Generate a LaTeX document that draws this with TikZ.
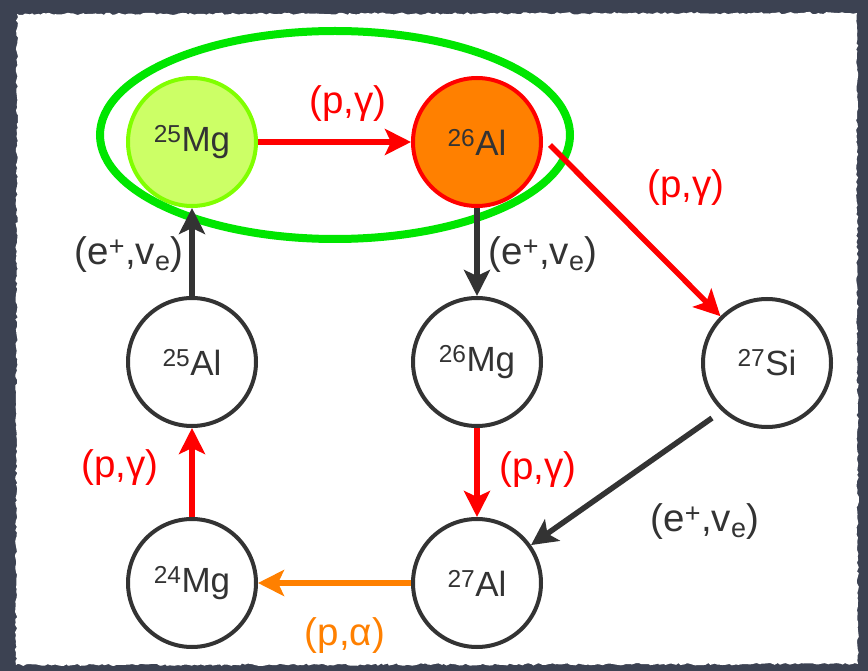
\documentclass[tikz,border=0pt]{standalone}
\usepackage{fontspec}
\setmainfont{Liberation Sans}
\usetikzlibrary{arrows.meta,decorations.pathmorphing,shapes.geometric}
\definecolor{board}{HTML}{3C4252}
\definecolor{ink}{HTML}{333333}
\definecolor{rxred}{HTML}{FF0000}
\definecolor{rxorange}{HTML}{FF8000}
\definecolor{hlgreen}{HTML}{00E600}
\definecolor{mgfill}{HTML}{CCFF66}
\definecolor{mgedge}{HTML}{80FF00}
\tikzset{
  nuc/.style={circle, minimum size=128pt, inner sep=0pt, draw=ink, line width=4pt, fill=white,
    text=ink, font=\fontsize{35}{40}\selectfont},
  rx/.style={line width=5.5pt, -{Stealth[length=26pt,width=26pt,inset=6pt]}},
  lbl/.style={font=\fontsize{38.5}{44}\selectfont},
}
\newcommand{\iso}[2]{\textsuperscript{#1}#2}
\newcommand{\ev}{(e\textsuperscript{+},v\textsubscript{e})}
\begin{document}
\begin{tikzpicture}[x=1pt,y=-1pt]
\useasboundingbox (0,0) rectangle (868,671);
\fill[board] (0,0) rectangle (868,671);
\fill[white, decorate, decoration={random steps, segment length=3pt, amplitude=1.2pt}]
  (17,14) -- (857,13) -- (858,664) -- (16,665) -- cycle;

\node[nuc, fill=mgfill, draw=mgedge] (mg25) at (192,142) {\iso{25}{Mg}};
\node[nuc, fill=rxorange, draw=rxred] (al26) at (477,142) {\iso{26}{Al}};
\node[nuc] (al25) at (192,362) {\iso{25}{Al}};
\node[nuc] (mg26) at (477,362) {\iso{26}{Mg}};
\node[nuc] (si27) at (767,363) {\iso{27}{Si}};
\node[nuc] (mg24) at (192,583) {\iso{24}{Mg}};
\node[nuc] (al27) at (477,583) {\iso{27}{Al}};

\node[draw=hlgreen, line width=8pt, ellipse, minimum width=470pt, minimum height=208pt, inner sep=0pt] (hl) at (335,135) {};

\coordinate (s1) at (550,145);
\coordinate (s2) at (712,418);

\draw[rx, rxred] (mg25) -- (al26);
\draw[rx, rxred] (s1) -- (si27);
\draw[rx, ink] (al26) -- (mg26);
\draw[rx, ink] (al25) -- (mg25);
\draw[rx, rxred] (mg26) -- (al27);
\draw[rx, ink] (s2) -- (al27);
\draw[rx, rxorange] (al27) -- (mg24);
\draw[rx, rxred] (mg24) -- (al25);

\node[lbl, text=rxred] (l1) at (348,104) {(p,γ)};
\node[lbl, text=rxred] (l2) at (686,188) {(p,γ)};
\node[lbl, text=ink] (l3) at (543,255) {\ev};
\node[lbl, text=ink] (l4) at (129,255) {\ev};
\node[lbl, text=rxred] (l5) at (538,470) {(p,γ)};
\node[lbl, text=ink] (l6) at (705,522) {\ev};
\node[lbl, text=rxorange] (l7) at (345,636) {(p,α)};
\node[lbl, text=rxred] (l8) at (120,468) {(p,γ)};
\end{tikzpicture}
\end{document}
